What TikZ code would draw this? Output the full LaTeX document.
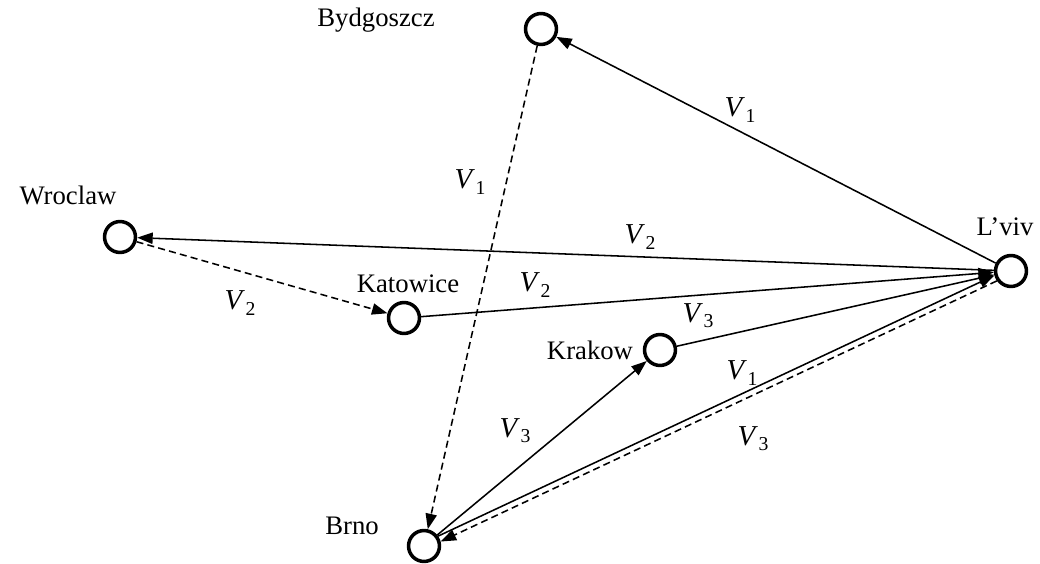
\documentclass[tikz,border=0pt]{standalone}
\usepackage{fontspec}
\setmainfont{Liberation Serif}
\usepackage{tikz}
\usetikzlibrary{positioning, arrows.meta}

\newcommand{\vsub}[1]{\textit{V}\kern0.5pt\raisebox{-0.4ex}{\fontsize{14}{14}\selectfont #1}}

\tikzset{
    city/.style={draw, circle, line width=2.5pt, minimum size=22pt, inner sep=0pt},
    road/.style={line width=1.1pt, -{Triangle[length=11pt, width=8pt]}},
    train/.style={road, dash pattern=on 5pt off 3pt},
    cityname/.style={font=\fontsize{19}{22}\selectfont},
    flow/.style={font=\fontsize{20.5}{24}\selectfont}
}

\begin{document}
\begin{tikzpicture}[x=0.025cm, y=-0.025cm]
    \useasboundingbox (0,0) rectangle (1040,564);
    \node (Bydgoszcz) [city] at (541,29) {};
    \node (Wroclaw) [city] at (120,237) {};
    \node (Katowice) [city] at (404,318) {};
    \node (Krakow) [city] at (660,350) {};
    \node (Lviv) [city] at (1011,271) {};
    \node (Brno) [city] at (424,546) {};
    \node (BydgoszczName) [cityname] at (376,20) {Bydgoszcz};
    \node (WroclawName) [cityname] at (68,195) {Wroclaw};
    \node (KatowiceName) [cityname] at (408,284) {Katowice};
    \node (KrakowName) [cityname] at (590,350) {Krakow};
    \node (LvivName) [cityname] at (1005,227) {L’viv};
    \node (BrnoName) [cityname] at (352,526) {Brno};
    \draw [road] (Lviv) -- (Bydgoszcz);
    \draw [train] (Bydgoszcz) -- (Brno);
    \draw [road] (Lviv) -- (Wroclaw);
    \draw [train] (Wroclaw) -- (Katowice);
    \draw [road] (Katowice) -- (Lviv);
    \draw [road] (Krakow) -- (Lviv);
    \draw [road] (Brno) -- (Krakow);
    \draw [road] (Brno.35) -- (Lviv.195); % the two flows side by side
    \draw [train] (Lviv.215) -- (Brno.15);
    \node (f1) [flow] at (740,110) {\vsub{1}};
    \node (f2) [flow] at (470,182) {\vsub{1}};
    \node (f3) [flow] at (640,237) {\vsub{2}};
    \node (f4) [flow] at (240,303) {\vsub{2}};
    \node (f5) [flow] at (535,285) {\vsub{2}};
    \node (f6) [flow] at (698,316) {\vsub{3}};
    \node (f7) [flow] at (515,431) {\vsub{3}};
    \node (f8) [flow] at (742,373) {\vsub{1}};
    \node (f9) [flow] at (753,439) {\vsub{3}};
\end{tikzpicture}
\end{document}
